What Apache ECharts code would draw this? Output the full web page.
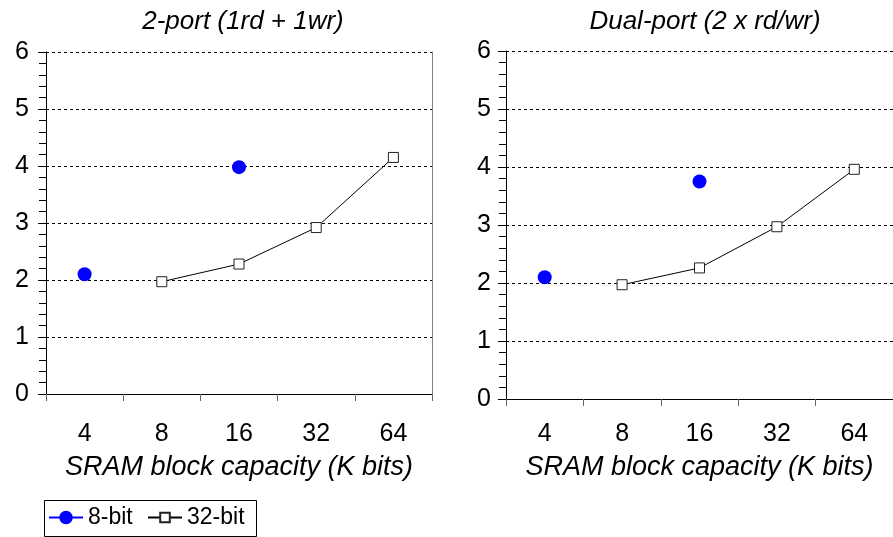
<!DOCTYPE html>
<html>
<head>
<meta charset="utf-8">
<script src="https://cdn.jsdelivr.net/npm/echarts@6/dist/echarts.min.js"></script>
<style>
  html, body { margin: 0; padding: 0; background: #fff; }
  #main { width: 893px; height: 537px; }
</style>
</head>
<body>
<div id="main"></div>
<script>
// data
var capacities = ['4', '8', '16', '32', '64'];
var yTicks = [0, 1, 2, 3, 4, 5, 6];

var twoPort8bit = [2.1, null, 3.98, null, null];
var twoPort32bit = [null, 1.97, 2.28, 2.92, 4.15];

var dualPort8bit = [2.1, null, 3.75, null, null];
var dualPort32bit = [null, 1.97, 2.26, 2.97, 3.96];

var FONT = 'Arial, "Liberation Sans", sans-serif';

function yAxisFor(gridIndex, labelMargin){
    return {
        type: 'value',
        gridIndex: gridIndex,
        min: yTicks[0],
        max: yTicks[yTicks.length - 1],
        interval: 1,
        axisLine: { show: true, lineStyle: { color: '#000', width: 1 } },
        axisTick: { show: true, inside: false, length: 8, lineStyle: { color: '#000' } },
        minorTick: { show: true, splitNumber: 5, length: 7, lineStyle: { color: '#000' } },
        splitLine: { show: true, lineStyle: { color: '#000', width: 1, type: [3, 3] } },
        axisLabel: { fontFamily: FONT, fontSize: 25, color: '#000', margin: labelMargin }
    };
}

function xAxisFor(gridIndex, labelMargin, nameGap){
    return {
        type: 'category',
        gridIndex: gridIndex,
        data: capacities,
        boundaryGap: true,
        axisLine: { show: true, lineStyle: { color: '#000', width: 1 } },
        axisTick: { show: true, length: 7, lineStyle: { color: '#666' } },
        axisLabel: { fontFamily: FONT, fontSize: 25, color: '#000', margin: labelMargin },
        name: 'SRAM block capacity (K bits)',
        nameLocation: 'middle',
        nameGap: nameGap,
        nameTextStyle: { fontFamily: FONT, fontSize: 27, fontStyle: 'italic', color: '#000' }
    };
}

function bit8(name, xi, yi, data){
    return {
        name: name, type: 'line',
        xAxisIndex: xi, yAxisIndex: yi,
        data: data,
        connectNulls: false,
        symbol: 'circle', symbolSize: 14,
        itemStyle: { color: '#0000ff' },
        lineStyle: { color: '#0000ff', width: 1 },
        emphasis: { disabled: true }
    };
}

function bit32(name, xi, yi, data){
    return {
        name: name, type: 'line',
        xAxisIndex: xi, yAxisIndex: yi,
        data: data,
        symbol: 'rect', symbolSize: 10,
        itemStyle: { color: '#fff', borderColor: '#222', borderWidth: 1 },
        lineStyle: { color: '#000', width: 1 },
        emphasis: { disabled: true }
    };
}

var myChart = echarts.init(document.getElementById('main'));

var option = {
    animation: false,
    backgroundColor: '#fff',
    title: [
        { text: '2-port (1rd + 1wr)', left: 238, top: 4, textAlign: 'center',
          textStyle: { fontFamily: FONT, fontSize: 26, fontStyle: 'italic', fontWeight: 'normal', color: '#000' } },
        { text: 'Dual-port (2 x rd/wr)', left: 700, top: 4, textAlign: 'center',
          textStyle: { fontFamily: FONT, fontSize: 26, fontStyle: 'italic', fontWeight: 'normal', color: '#000' } }
    ],
    legend: [
        { data: ['8-bit'], left: 48, top: 506, itemWidth: 34, itemHeight: 17, itemGap: 0,
          padding: 0, textStyle: { fontFamily: FONT, fontSize: 23, color: '#000' } },
        { data: ['32-bit'], left: 147, top: 506, itemWidth: 34, itemHeight: 12, itemGap: 0,
          padding: 0, textStyle: { fontFamily: FONT, fontSize: 23, color: '#000' } }
    ],
    graphic: [
        { type: 'rect', left: 42, top: 498, shape: { width: 212, height: 36 },
          style: { fill: 'none', stroke: '#000', lineWidth: 1 }, silent: true }
    ],
    grid: [
        { left: 46, top: 52, width: 386, height: 342 },
        { left: 506, top: 51, width: 389, height: 348 }
    ],
    xAxis: [
        xAxisFor(0, 28, 60),
        xAxisFor(1, 23, 55)
    ],
    yAxis: [
        yAxisFor(0, 17),
        yAxisFor(1, 15),
        {
            type: 'value', gridIndex: 0, position: 'right',
            min: yTicks[0], max: yTicks[yTicks.length - 1], interval: 1,
            axisLine: { show: true, lineStyle: { color: '#808080', width: 1 } },
            axisTick: { show: false }, axisLabel: { show: false }, splitLine: { show: false }
        }
    ],
    series: [
        bit8('8-bit', 0, 0, twoPort8bit),
        bit32('32-bit', 0, 0, twoPort32bit),
        bit8('8-bit', 1, 1, dualPort8bit),
        bit32('32-bit', 1, 1, dualPort32bit)
    ]
};

myChart.setOption(option);
</script>
</body>
</html>
